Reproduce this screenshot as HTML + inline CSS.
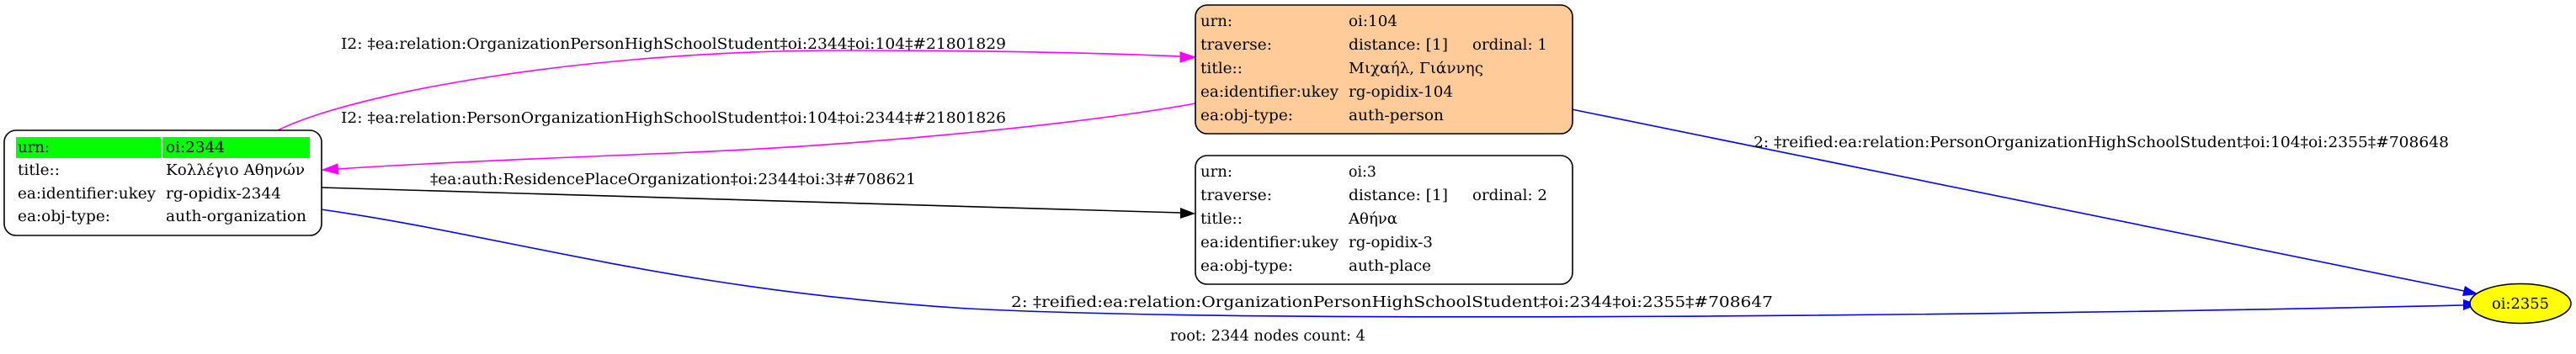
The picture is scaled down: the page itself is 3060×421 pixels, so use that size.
<!DOCTYPE html>
<html><head><meta charset="utf-8"><style>
html,body{margin:0;padding:0;background:#fff;}
svg{display:block;}
text{font-family:"DejaVu Serif","Liberation Serif",serif;font-size:17.5px;fill:#000;}
</style></head><body>
<svg width="3060" height="421" viewBox="0 0 3060 421" xmlns="http://www.w3.org/2000/svg">
<!-- edges -->
<path d="M330,155 C420,110 700,60 1000,60 C1200,60 1330,64 1402,67" fill="none" stroke="#ff00ff" stroke-width="1.6"/>
<polygon points="1420,68 1402,62 1402,74" fill="#ff00ff" stroke="#ff00ff"/>
<path d="M1420,123 C1300,145 1050,172 800,182 C600,190 470,196 401,201" fill="none" stroke="#ff00ff" stroke-width="1.6"/>
<polygon points="383,202 401,195 402,207" fill="#ff00ff" stroke="#ff00ff"/>
<path d="M381,223 L1402,253" fill="none" stroke="#000" stroke-width="1.6"/>
<polygon points="1420,254 1402,247 1402,260" fill="#000"/>
<path d="M381,249 C600,280 800,345 1150,367 C1500,385 2400,375 2926,363" fill="none" stroke="#0000ff" stroke-width="1.6"/>
<polygon points="2944,362 2926,356 2926,369" fill="#0000ff"/>
<path d="M1867,130 L2927,346" fill="none" stroke="#0000ff" stroke-width="1.6"/>
<polygon points="2944,350 2928,340 2925,352" fill="#0000ff"/>
<!-- edge labels -->
<text x="405" y="58" textLength="790" lengthAdjust="spacingAndGlyphs">I2: ‡ea:relation:OrganizationPersonHighSchoolStudent‡oi:2344‡oi:104‡#21801829</text>
<text x="405" y="146" textLength="790" lengthAdjust="spacingAndGlyphs">I2: ‡ea:relation:PersonOrganizationHighSchoolStudent‡oi:104‡oi:2344‡#21801826</text>
<text x="511" y="219" textLength="577" lengthAdjust="spacingAndGlyphs">‡ea:auth:ResidencePlaceOrganization‡oi:2344‡oi:3‡#708621</text>
<text x="1201" y="365" textLength="905" lengthAdjust="spacingAndGlyphs">2: ‡reified:ea:relation:OrganizationPersonHighSchoolStudent‡oi:2344‡oi:2355‡#708647</text>
<text x="2083" y="175" textLength="826" lengthAdjust="spacingAndGlyphs">2: ‡reified:ea:relation:PersonOrganizationHighSchoolStudent‡oi:104‡oi:2355‡#708648</text>
<text x="1390" y="405" textLength="232" lengthAdjust="spacingAndGlyphs">root: 2344 nodes count: 4</text>
<!-- node 2344 -->
<rect x="5" y="155" width="377" height="125" rx="14" fill="#fff" stroke="#000" stroke-width="1.6"/>
<rect x="19" y="163" width="172" height="25" fill="#00ff00"/>
<rect x="193" y="163" width="175" height="25" fill="#00ff00"/>
<text x="21" y="181" textLength="38" lengthAdjust="spacingAndGlyphs">urn:</text><text x="197" y="181" textLength="70" lengthAdjust="spacingAndGlyphs">oi:2344</text>
<text x="21" y="208" textLength="50" lengthAdjust="spacingAndGlyphs">title::</text><text x="197" y="208" textLength="165" lengthAdjust="spacingAndGlyphs">Κολλέγιο Αθηνών</text>
<text x="21" y="236" textLength="164" lengthAdjust="spacingAndGlyphs">ea:identifier:ukey</text><text x="197" y="236" textLength="137" lengthAdjust="spacingAndGlyphs">rg-opidix-2344</text>
<text x="21" y="263" textLength="110" lengthAdjust="spacingAndGlyphs">ea:obj-type:</text><text x="197" y="263" textLength="167" lengthAdjust="spacingAndGlyphs">auth-organization</text>
<!-- node 104 -->
<rect x="1420" y="6" width="448" height="153" rx="14" fill="#ffcc99" stroke="#000" stroke-width="1.6"/>
<text x="1426" y="31" textLength="38" lengthAdjust="spacingAndGlyphs">urn:</text><text x="1602" y="31" textLength="58" lengthAdjust="spacingAndGlyphs">oi:104</text>
<text x="1426" y="59" textLength="85" lengthAdjust="spacingAndGlyphs">traverse:</text><text x="1602" y="59" textLength="118" lengthAdjust="spacingAndGlyphs">distance: [1]</text><text x="1749" y="59" textLength="89" lengthAdjust="spacingAndGlyphs">ordinal: 1</text>
<text x="1426" y="87" textLength="50" lengthAdjust="spacingAndGlyphs">title::</text><text x="1602" y="87" textLength="160" lengthAdjust="spacingAndGlyphs">Μιχαήλ, Γιάννης</text>
<text x="1426" y="115" textLength="164" lengthAdjust="spacingAndGlyphs">ea:identifier:ukey</text><text x="1602" y="115" textLength="124" lengthAdjust="spacingAndGlyphs">rg-opidix-104</text>
<text x="1426" y="143" textLength="110" lengthAdjust="spacingAndGlyphs">ea:obj-type:</text><text x="1602" y="143" textLength="113" lengthAdjust="spacingAndGlyphs">auth-person</text>
<!-- node 3 -->
<rect x="1420" y="185" width="448" height="153" rx="14" fill="#fff" stroke="#000" stroke-width="1.6"/>
<text x="1426" y="210" textLength="38" lengthAdjust="spacingAndGlyphs">urn:</text><text x="1602" y="210" textLength="33" lengthAdjust="spacingAndGlyphs">oi:3</text>
<text x="1426" y="238" textLength="85" lengthAdjust="spacingAndGlyphs">traverse:</text><text x="1602" y="238" textLength="118" lengthAdjust="spacingAndGlyphs">distance: [1]</text><text x="1749" y="238" textLength="89" lengthAdjust="spacingAndGlyphs">ordinal: 2</text>
<text x="1426" y="266" textLength="50" lengthAdjust="spacingAndGlyphs">title::</text><text x="1602" y="266" textLength="58" lengthAdjust="spacingAndGlyphs">Αθήνα</text>
<text x="1426" y="294" textLength="164" lengthAdjust="spacingAndGlyphs">ea:identifier:ukey</text><text x="1602" y="294" textLength="100" lengthAdjust="spacingAndGlyphs">rg-opidix-3</text>
<text x="1426" y="322" textLength="110" lengthAdjust="spacingAndGlyphs">ea:obj-type:</text><text x="1602" y="322" textLength="98" lengthAdjust="spacingAndGlyphs">auth-place</text>
<!-- ellipse -->
<ellipse cx="2994" cy="361" rx="60" ry="23.5" fill="#ffff00" stroke="#000" stroke-width="1.6"/>
<text x="2960" y="367" textLength="68" lengthAdjust="spacingAndGlyphs">oi:2355</text>
</svg>
</body></html>
